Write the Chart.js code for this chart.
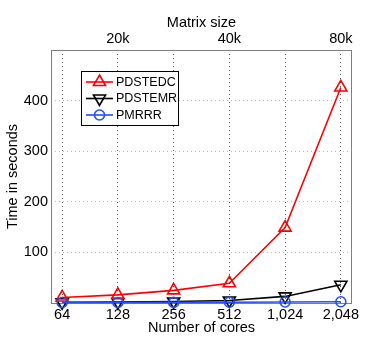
<!DOCTYPE html>
<html>
<head>
<meta charset="utf-8">
<script src="https://cdn.jsdelivr.net/npm/chart.js@4/dist/chart.umd.min.js"></script>
<style>
  html, body { margin: 0; padding: 0; background: #fff; }
  #chart { display: block; }
</style>
</head>
<body>
<canvas id="chart" width="390" height="338"></canvas>
<script>
// data
const cores = [64, 128, 256, 512, 1024, 2048];
const coreLabels = ['64', '128', '256', '512', '1,024', '2,048'];
const matrixTicks = [128, 512, 2048];
const matrixLabels = ['20k', '40k', '80k'];
const pdstedc = [11, 16, 25, 39, 149, 426];
const pdstemr = [1.5, 2, 3, 5, 13, 36];
const pmrrr = [1, 1, 1.2, 1.5, 2, 2.5];
const yTicks = [100, 200, 300, 400];

const FONT = '"Liberation Sans", Arial, Helvetica, sans-serif';
const FS = 14.5;
const pts = arr => arr.map((v, i) => ({ x: cores[i], y: v }));

// box round the plot, drawn under the marks
const boxPlugin = {
  id: 'box',
  beforeDatasetsDraw(chart) {
    const a = chart.chartArea, ctx = chart.ctx;
    ctx.save();
    ctx.strokeStyle = '#7f7f7f';
    ctx.lineWidth = 1;
    ctx.strokeRect(a.left + 0.5, a.top + 0.5, a.right - a.left - 1, a.bottom - a.top);
    ctx.restore();
  }
};

// legend inside the plot, top left
const legendPlugin = {
  id: 'insideLegend',
  afterDraw(chart) {
    const a = chart.chartArea, ctx = chart.ctx;
    const x0 = a.left + 30, y0 = a.top + 21, w = 97, h = 54;
    ctx.save();
    ctx.fillStyle = '#fff';
    ctx.fillRect(x0, y0, w, h);
    ctx.strokeStyle = '#000';
    ctx.lineWidth = 1;
    ctx.strokeRect(x0 + 0.5, y0 + 0.5, w, h);
    ctx.font = '12.5px ' + FONT;
    ctx.textBaseline = 'middle';
    chart.data.datasets.forEach((ds, i) => {
      const y = y0 + 11 + i * 16.5;
      ctx.strokeStyle = ds.borderColor;
      ctx.lineWidth = 1.6;
      ctx.beginPath();
      ctx.moveTo(x0 + 5, y);
      ctx.lineTo(x0 + 32, y);
      ctx.stroke();
      ctx.fillStyle = 'rgba(0,0,0,0)';
      Chart.helpers.drawPoint(ctx, {
        pointStyle: ds.pointStyle,
        rotation: ds.pointRotation || 0,
        radius: ds.pointRadius,
        borderWidth: ds.pointBorderWidth
      }, x0 + 18.5, y);
      ctx.fillStyle = '#000';
      ctx.fillText(ds.label, x0 + 35, y + 0.5);
    });
    ctx.restore();
  }
};

function series(label, data, color, style, rot, radius, order) {
  return {
    label: label,
    data: pts(data),
    order: order,
    borderColor: color,
    backgroundColor: 'rgba(0,0,0,0)',
    borderWidth: 1.6,
    pointStyle: style,
    pointRotation: rot,
    pointRadius: radius,
    pointHoverRadius: radius,
    pointBorderWidth: 1.6,
    pointBackgroundColor: 'rgba(0,0,0,0)',
    tension: 0,
    clip: false
  };
}

new Chart(document.getElementById('chart'), {
  type: 'line',
  data: {
    datasets: [
      series('PDSTEDC', pdstedc, '#ff0000', 'triangle', 0, 7, 1),
      series('PDSTEMR', pdstemr, '#000000', 'triangle', 180, 7, 2),
      series('PMRRR', pmrrr, '#1f4fff', 'circle', 0, 5, 0)
    ]
  },
  options: {
    responsive: false,
    animation: false,
    devicePixelRatio: 1,
    layout: { padding: { left: 0, right: 38, top: 0, bottom: 0 } },
    plugins: { legend: { display: false }, tooltip: { enabled: false } },
    scales: {
      x: {
        type: 'logarithmic',
        position: 'bottom',
        min: 64 / Math.pow(2, 0.2),
        max: 2048 * Math.pow(2, 0.2),
        afterBuildTicks: s => { s.ticks = cores.map(v => ({ value: v })); },
        afterFit: s => { s.height = 35; },
        ticks: {
          autoSkip: false,
          maxRotation: 0,
          padding: 3,
          color: '#000',
          font: { family: FONT, size: FS },
          callback: v => coreLabels[cores.indexOf(v)]
        },
        grid: { color: '#555', lineWidth: 1, tickLength: 0, drawTicks: false },
        border: { display: false, dash: [1, 3] },
        title: {
          display: true, text: 'Number of cores', color: '#000',
          font: { family: FONT, size: FS }, padding: { top: 0, bottom: 1 }
        }
      },
      x2: {
        type: 'logarithmic',
        position: 'top',
        min: 64 / Math.pow(2, 0.2),
        max: 2048 * Math.pow(2, 0.2),
        afterBuildTicks: s => { s.ticks = matrixTicks.map(v => ({ value: v })); },
        afterFit: s => { s.height = 50; },
        ticks: {
          autoSkip: false,
          maxRotation: 0,
          padding: 2,
          color: '#000',
          font: { family: FONT, size: FS },
          callback: v => matrixLabels[matrixTicks.indexOf(v)]
        },
        grid: { display: false, drawTicks: false },
        border: { display: false },
        title: {
          display: true, text: 'Matrix size', color: '#000',
          font: { family: FONT, size: FS }, padding: { top: 14, bottom: 0 }
        }
      },
      y: {
        min: 0,
        max: 500,
        afterBuildTicks: s => { s.ticks = yTicks.map(v => ({ value: v })); },
        afterFit: s => { s.width = 51; },
        ticks: {
          padding: 3,
          color: '#000',
          font: { family: FONT, size: FS }
        },
        grid: { color: '#b8b8b8', lineWidth: 1, drawTicks: false, tickLength: 0 },
        border: { display: false, dash: [1, 3] },
        title: {
          display: true, text: 'Time in seconds', color: '#000',
          font: { family: FONT, size: FS }, padding: { top: 4, bottom: 0 }
        }
      }
    }
  },
  plugins: [boxPlugin, legendPlugin]
});
</script>
</body>
</html>
